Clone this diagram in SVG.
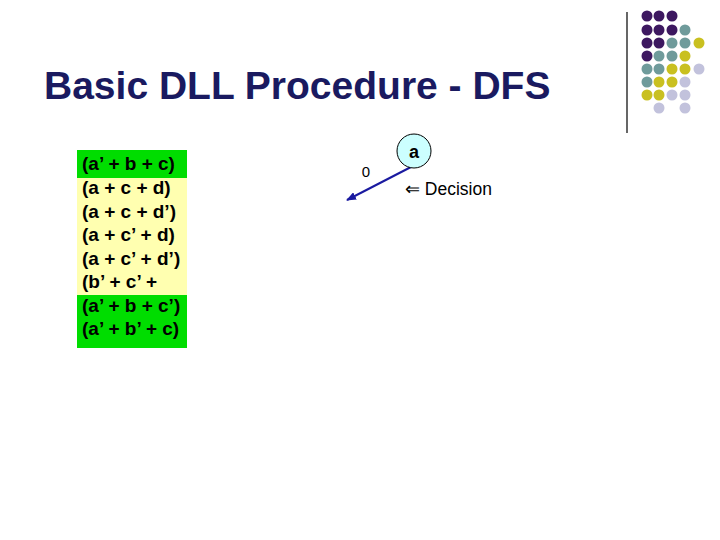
<svg xmlns="http://www.w3.org/2000/svg" width="720" height="540" viewBox="0 0 720 540">
<style>
.t{font-family:"Liberation Sans",Arial,sans-serif}
.c{font-family:"Liberation Sans",Arial,sans-serif;font-size:19px;font-weight:bold;fill:#000}
.P{fill:#3d1860}.T{fill:#6f9b9b}.Y{fill:#c9c020}.L{fill:#c2c2dc}
</style>
<defs><marker id="ah" markerWidth="10" markerHeight="8" refX="9" refY="4" orient="auto" markerUnits="userSpaceOnUse"><path d="M0,0 L10,4 L0,8 Z" fill="#1a1aa0"/></marker></defs>
<rect width="720" height="540" fill="#fff"/>
<g id="deco">
<line x1="627" y1="12" x2="627" y2="133" stroke="#000" stroke-width="1.2"/>
<g>
<circle class="P" cx="647" cy="16" r="5.5"/><circle class="P" cx="659" cy="16" r="5.5"/><circle class="P" cx="672" cy="16" r="5.5"/>
<circle class="P" cx="647" cy="30" r="5.5"/><circle class="P" cx="659" cy="30" r="5.5"/><circle class="P" cx="672" cy="30" r="5.5"/><circle class="T" cx="685" cy="30" r="5.5"/>
<circle class="P" cx="647" cy="43" r="5.5"/><circle class="P" cx="659" cy="43" r="5.5"/><circle class="T" cx="672" cy="43" r="5.5"/><circle class="T" cx="685" cy="43" r="5.5"/><circle class="Y" cx="699" cy="43" r="5.5"/>
<circle class="P" cx="647" cy="56" r="5.5"/><circle class="T" cx="659" cy="56" r="5.5"/><circle class="T" cx="672" cy="56" r="5.5"/><circle class="Y" cx="685" cy="56" r="5.5"/>
<circle class="T" cx="647" cy="69" r="5.5"/><circle class="T" cx="659" cy="69" r="5.5"/><circle class="Y" cx="672" cy="69" r="5.5"/><circle class="Y" cx="685" cy="69" r="5.5"/><circle class="L" cx="699" cy="69" r="5.5"/>
<circle class="T" cx="647" cy="82" r="5.5"/><circle class="Y" cx="659" cy="82" r="5.5"/><circle class="Y" cx="672" cy="82" r="5.5"/><circle class="L" cx="685" cy="82" r="5.5"/>
<circle class="Y" cx="647" cy="95" r="5.5"/><circle class="Y" cx="659" cy="95" r="5.5"/><circle class="L" cx="672" cy="95" r="5.5"/><circle class="L" cx="685" cy="95" r="5.5"/>
<circle class="L" cx="659" cy="108" r="5.5"/><circle class="L" cx="685" cy="108" r="5.5"/>
</g>
</g>
<text class="t" x="44" y="99" font-size="39" font-weight="bold" fill="#1a1a60">Basic DLL Procedure - DFS</text>
<g id="clauses">
<rect x="77" y="150" width="110" height="198" fill="#ffffb0"/>
<rect x="77" y="150" width="110" height="28" fill="#00dd00"/>
<rect x="77" y="295" width="110" height="53" fill="#00dd00"/>
<text class="c" x="82" y="170">(a’ + b + c)</text>
<text class="c" x="82" y="194">(a + c + d)</text>
<text class="c" x="82" y="218">(a + c + d’)</text>
<text class="c" x="82" y="241">(a + c’ + d)</text>
<text class="c" x="82" y="265">(a + c’ + d’)</text>
<text class="c" x="82" y="288">(b’ + c’ +</text>
<text class="c" x="82" y="312">(a’ + b + c’)</text>
<text class="c" x="82" y="335">(a’ + b’ + c)</text>
</g>
<g id="connectors">
<line x1="411" y1="167" x2="347" y2="200" stroke="#1a1aa0" stroke-width="2" marker-end="url(#ah)"/>
</g>
<g id="node-a">
<circle cx="414" cy="151" r="17" fill="#ccffff" stroke="#000" stroke-width="1"/>
<text class="t" x="414" y="158" font-size="18" font-weight="bold" text-anchor="middle">a</text>
</g>
<text class="t" x="366" y="177" font-size="15" text-anchor="middle">0</text>
<text class="t" x="405" y="195" font-size="17.5">⇐ Decision</text>
</svg>
